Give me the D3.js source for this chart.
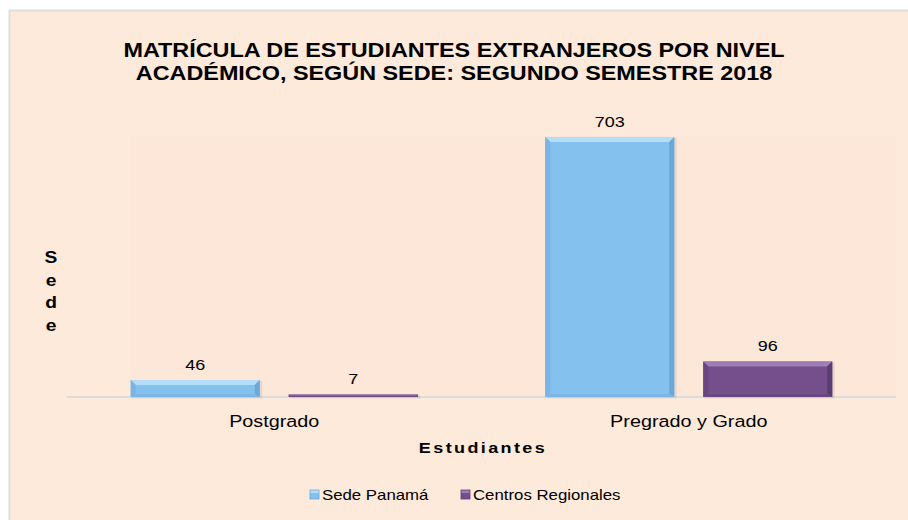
<!DOCTYPE html>
<html><head><meta charset="utf-8">
<script src="https://cdn.jsdelivr.net/npm/d3@7"></script>
<style>body{margin:0;background:#fff}svg{display:block}text{font-family:"Liberation Sans",Arial,sans-serif}</style>
</head><body><svg id="c" width="908" height="520"></svg>
<script>
const categories = ["Postgrado", "Pregrado y Grado"];
const seriesNames = ["Sede Panamá", "Centros Regionales"];
const sedePanama = [46, 703];
const centrosRegionales = [7, 96];
const titleLines = ["MATRÍCULA DE ESTUDIANTES EXTRANJEROS POR NIVEL", "ACADÉMICO, SEGÚN SEDE: SEGUNDO SEMESTRE 2018"];
const yAxisTitle = "Sede";
const xAxisTitle = "Estudiantes";

const colors = {
  "Sede Panamá": {main:"#85c1ee", light:"#b5ddf7", dark:"#6ba7d7", side:"#79b5e4", bottom:"#7ab7e6"},
  "Centros Regionales": {main:"#744f8c", light:"#a07db6", dark:"#5a3d70", side:"#694682", bottom:"#6a4780"}
};
const SX = 1.2; // horizontal stretch of text in the reference

const svg = d3.select("#c");
svg.append("rect").attr("x",9).attr("y",10).attr("width",910).attr("height",520).attr("fill","#fdeadb");
svg.append("line").attr("x1",9).attr("x2",908).attr("y1",10.5).attr("y2",10.5).attr("stroke","#dedede").attr("stroke-width",2);
svg.append("line").attr("x1",9.5).attr("x2",9.5).attr("y1",10).attr("y2",520).attr("stroke","#dedede").attr("stroke-width",2);
svg.append("rect").attr("x",130).attr("y",136).attr("width",766).attr("height",261).attr("fill","#fce7d8");

function txt(g, s, x, y, size, weight, anchor, ls){
  const t = g.append("text").attr("transform",`translate(${x},${y}) scale(${SX},1)`)
    .attr("font-size",size).attr("font-weight",weight||"normal").attr("text-anchor",anchor||"middle").attr("fill","#000").text(s);
  if(ls) t.attr("letter-spacing",ls);
  return t;
}

const x0 = d3.scaleBand().domain(categories).range([67,896]).paddingInner(0.3075).paddingOuter(0.15375);
const x1 = d3.scaleBand().domain(seriesNames).range([0,x0.bandwidth()]).paddingInner(0.1835);
const y = d3.scaleLinear().domain([0,800]).range([397, 397-800*(260/703)]);

const data = categories.map((c,i)=>({cat:c, vals:[{s:seriesNames[0],v:sedePanama[i]},{s:seriesNames[1],v:centrosRegionales[i]}]}));

// axis baseline
svg.append("line").attr("x1",x0.range()[0]).attr("x2",x0.range()[1]).attr("y1",y(0)).attr("y2",y(0)).attr("stroke","#dcdcdc").attr("stroke-width",2);

const g = svg.append("g");
data.forEach(d=>{
  d.vals.forEach(b=>{
    const bx = x0(d.cat)+x1(b.s), bw = x1.bandwidth(), by = y(b.v), bh = y(0)-y(b.v);
    const c = colors[b.s];
    const e = Math.min(5, bh/2.2);
    const eb = Math.min(3, bh/3);
    // shadow
    g.append("rect").attr("x",bx+1).attr("y",by+1).attr("width",bw+1.5).attr("height",bh+0.5).attr("fill","#000").attr("opacity",0.07);
    g.append("rect").attr("x",bx).attr("y",by).attr("width",bw).attr("height",bh).attr("fill",c.main);
    // bevels
    g.append("polygon").attr("points",[[bx,by],[bx+bw,by],[bx+bw-e,by+e],[bx+e,by+e]].join(" ")).attr("fill",c.light);
    g.append("polygon").attr("points",[[bx,by],[bx+e,by+e],[bx+e,by+bh-eb],[bx,by+bh]].join(" ")).attr("fill",c.side);
    g.append("polygon").attr("points",[[bx+bw,by],[bx+bw,by+bh],[bx+bw-e,by+bh-eb],[bx+bw-e,by+e]].join(" ")).attr("fill",c.dark);
    g.append("polygon").attr("points",[[bx,by+bh],[bx+bw,by+bh],[bx+bw-e,by+bh-eb],[bx+e,by+bh-eb]].join(" ")).attr("fill",c.bottom);
    txt(svg, b.v, bx+bw/2, by-10, 15);
  });
  txt(svg, d.cat, x0(d.cat)+x0.bandwidth()/2, 427, 16.5);
});

// title
titleLines.forEach((l,i)=>txt(svg,l,454,57+i*23,19.5,"bold"));
// y axis title stacked
yAxisTitle.split("").forEach((ch,i)=>txt(svg,ch,51,263+i*22.5,16,"bold"));
// x axis title
txt(svg,xAxisTitle,483,453,15,"bold","middle","2");

// legend
const lg = svg.append("g");
const lx = [310, 461];
seriesNames.forEach((s,i)=>{
  const c = colors[s];
  lg.append("rect").attr("x",lx[i]).attr("y",490).attr("width",9).attr("height",9).attr("fill",c.main).attr("stroke",c.dark).attr("stroke-width",0.8);
  lg.append("rect").attr("x",lx[i]+0.5).attr("y",490.5).attr("width",8).attr("height",2.5).attr("fill",c.light);
  txt(lg,s,lx[i]+12,500,14,"normal","start");
});
</script></body></html>
